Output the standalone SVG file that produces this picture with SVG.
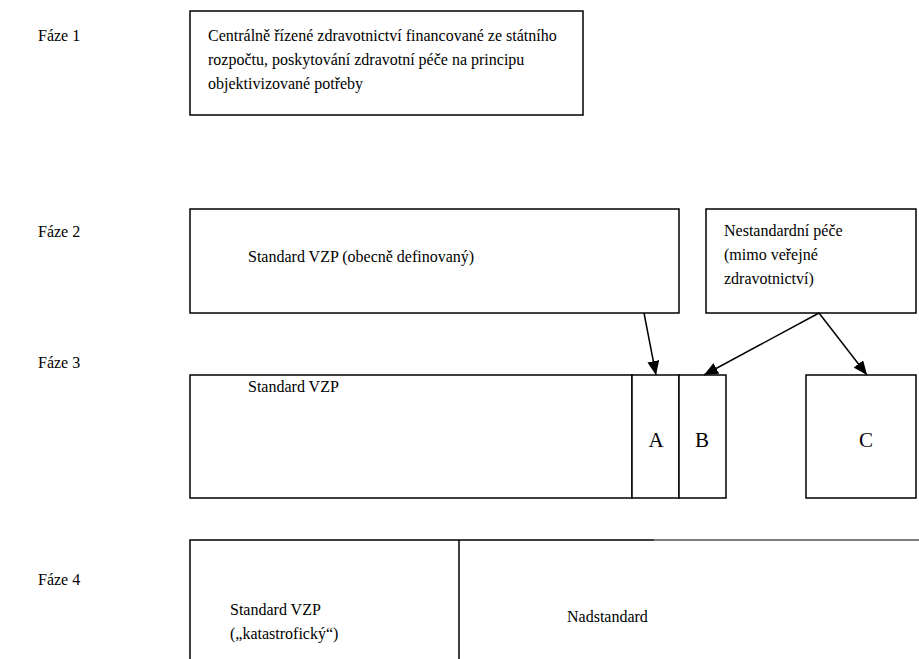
<svg xmlns="http://www.w3.org/2000/svg" width="919" height="659" viewBox="0 0 919 659" font-family="'Liberation Serif', 'DejaVu Serif', serif">
<style>
text{font-family:'Liberation Serif','DejaVu Serif',serif;font-size:16px;fill:#000}
.big{font-size:21px}
.box{fill:#fff;stroke:#000;stroke-width:1.5}
.ln{stroke:#000;stroke-width:1.5;fill:none}
.conn{stroke:#000;stroke-width:1.5;fill:none;marker-end:url(#ah)}
</style>
<defs>
<marker id="ah" viewBox="0 0 14 12" refX="14" refY="6" markerWidth="14" markerHeight="12" markerUnits="userSpaceOnUse" orient="auto">
<path d="M0,0 L14,6 L0,12 Z" fill="#000"/>
</marker>
</defs>
<rect width="919" height="659" fill="#fff"/>
<g id="labels">
<text x="38" y="41">Fáze 1</text>
<text x="38" y="237">Fáze 2</text>
<text x="38" y="368">Fáze 3</text>
<text x="38" y="585">Fáze 4</text>
</g>
<g id="phase1">
<rect class="box" x="190" y="11" width="393" height="104"/>
<text x="208" y="41">Centrálně řízené zdravotnictví financované ze státního</text>
<text x="208" y="65">rozpočtu, poskytování zdravotní péče na principu</text>
<text x="208" y="89">objektivizované potřeby</text>
</g>
<g id="standard2">
<rect class="box" x="190" y="209" width="489" height="104"/>
<text x="248" y="262">Standard VZP (obecně definovaný)</text>
</g>
<g id="nestandard">
<rect class="box" x="706" y="209" width="210" height="104"/>
<text x="724" y="236">Nestandardní péče</text>
<text x="724" y="260">(mimo veřejné</text>
<text x="724" y="284">zdravotnictví)</text>
</g>
<g id="standard3">
<rect class="box" x="190" y="375" width="442" height="123"/>
<text x="248" y="392">Standard VZP</text>
</g>
<g id="A">
<rect class="box" x="632" y="375" width="47" height="123"/>
<text class="big" x="656" y="447" text-anchor="middle">A</text>
</g>
<g id="B">
<rect class="box" x="679" y="375" width="47" height="123"/>
<text class="big" x="702" y="447" text-anchor="middle">B</text>
</g>
<g id="C">
<rect class="box" x="806" y="375" width="110" height="123"/>
<text class="big" x="866" y="447" text-anchor="middle">C</text>
</g>
<g id="phase4">
<path class="ln" d="M190,659 V540 H654"/>
<path d="M654,540 H919" stroke="#000" stroke-width="1.2"/>
<path class="ln" d="M459,540 V659"/>
<text x="230" y="615">Standard VZP</text>
<text x="230" y="639">(„katastrofický“)</text>
<text x="567" y="622">Nadstandard</text>
</g>
<g id="connectors">
<line class="conn" x1="644" y1="313" x2="656" y2="375"/>
<line class="conn" x1="819" y1="313" x2="704" y2="375"/>
<line class="conn" x1="819" y1="313" x2="867" y2="375"/>
</g>
</svg>
